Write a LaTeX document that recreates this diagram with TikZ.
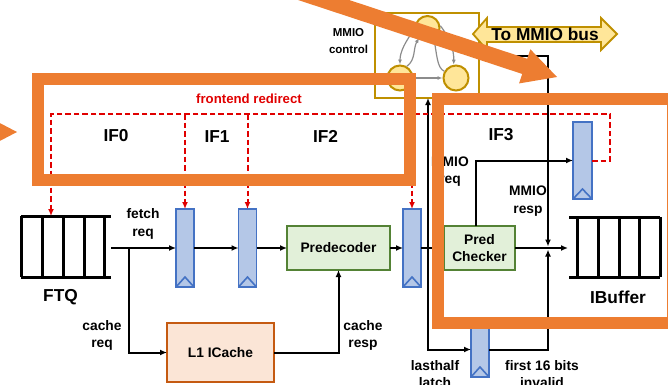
\documentclass[tikz,border=0pt]{standalone}
\usepackage{fontspec}
\setmainfont{Liberation Sans}
\usetikzlibrary{arrows.meta}

\definecolor{redir}{HTML}{E00000}
\definecolor{regfill}{HTML}{B4C7E7}
\definecolor{regdraw}{HTML}{4472C4}
\definecolor{grnfill}{HTML}{E2F0D9}
\definecolor{grndraw}{HTML}{548235}
\definecolor{icfill}{HTML}{FBE5D6}
\definecolor{icdraw}{HTML}{C55A11}
\definecolor{goldl}{HTML}{BF9000}
\definecolor{goldf}{HTML}{FFE699}
\definecolor{hilite}{HTML}{ED7D31}
\definecolor{fsmgray}{HTML}{8C8C8C}

\newcommand\lblbig{\fontsize{17.3bp}{20bp}\selectfont\bfseries}
\newcommand\lblmid{\fontsize{13.8bp}{17.5bp}\selectfont\bfseries}
\newcommand\lblred{\fontsize{13.2bp}{16bp}\selectfont\bfseries}
\newcommand\lblsmall{\fontsize{11.5bp}{17bp}\selectfont\bfseries}

\begin{document}
\begin{tikzpicture}[x=1bp,y=-1bp,
  wire/.style={line width=2bp,-{Latex[length=7bp,width=6bp]}},
  queue/.style={line width=3bp},
  redarrow/.style={draw=redir,line width=2bp,dash pattern=on 5.5bp off 3bp,
    -{Latex[length=7bp,width=6bp]}},
  regbox/.style={draw=regdraw,fill=regfill,line width=1.6bp,minimum width=18bp,
    inner sep=0pt,outer sep=0pt,
    path picture={\draw[regdraw,line width=1.6bp]
      (path picture bounding box.south west)
      -- ([yshift=10bp]path picture bounding box.south)
      -- (path picture bounding box.south east);}},
  logic/.style={draw=grndraw,fill=grnfill,line width=2.4bp,inner sep=0pt,
    outer sep=0pt,align=center,font=\lblmid},
  cachebox/.style={draw=icdraw,fill=icfill,line width=2.4bp,inner sep=0pt,
    outer sep=0pt,font=\lblmid},
  fsmstate/.style={circle,draw=goldl,fill=goldf,line width=2bp,inner sep=0pt},
  fsmedge/.style={draw=fsmgray,line width=1.2bp,-{Latex[length=5bp,width=4bp]}},
  lbl/.style={font=\lblmid,align=center,inner sep=0pt},
  stagelbl/.style={font=\lblbig,inner sep=0pt},
  band/.style={draw=hilite,line width=12bp}
]
\useasboundingbox (0,0) rectangle (668,384);

% ---------- MMIO controller ----------
\node[draw=goldl,fill=white,line width=2.4bp,minimum width=104bp,minimum height=85bp,
  inner sep=0pt,outer sep=0pt] (mmio) at (427,55.5) {};
\node[fsmstate,minimum size=24bp] (s0) at (427.5,28) {};
\node[fsmstate,minimum size=25bp] (s1) at (400,78) {};
\node[fsmstate,minimum size=25bp] (s2) at (456,78) {};
\draw[fsmedge] (s0.185) .. controls (405,42) and (400,52) .. (s1.north);
\draw[fsmedge] (s1.60) .. controls (416,60) and (413,48) .. (s0.230);
\draw[fsmgray,line width=1.2bp] (s0.300) .. controls (437,55) and (437,68) .. (s2.150);
\draw[fsmedge] (s0.10) .. controls (450,38) and (454,50) .. (s2.100);
\draw[fsmedge] (s1.east) -- (s2.west);
\node[lbl,font=\lblsmall] (mmio-lbl) at (348.5,41.5) {MMIO\\control};

% bus arrow
\draw[draw=goldl,fill=goldf,line width=1.8bp]
  (473,34) -- (487,18) -- (487,27) -- (601,27) -- (601,18) -- (617,34)
  -- (601,50) -- (601,42) -- (487,42) -- (487,50) -- cycle;
\node[font=\lblbig] (bus-lbl) at (545,34) {To MMIO bus};

% ---------- queues ----------
\foreach \xx in {21,42,63,84,104}
  \draw[queue] (\xx,216) -- (\xx,277);
\draw[queue] (21,216) -- (111,216) (21,277) -- (111,277);
\coordinate (ftq-out) at (111,248);
\coordinate (ftq-top) at (51,216);
\node[stagelbl] (ftq-lbl) at (60.5,297) {FTQ};

\foreach \xx in {577,598,619,639,660}
  \draw[queue] (\xx,217) -- (\xx,277);
\draw[queue] (569,217) -- (660,217) (569,277) -- (660,277);
\coordinate (ibuf-in) at (568,248);
\node[stagelbl] (ibuf-lbl) at (618,297) {IBuffer};

% ---------- pipeline registers and blocks ----------
\node[regbox,minimum height=78bp] (r1) at (185,248) {};
\node[regbox,minimum height=78bp] (r2) at (247.5,248) {};
\node[regbox,minimum height=78bp] (r3) at (412,248) {};
\node[regbox,minimum height=77bp,minimum width=19bp] (r4) at (582.5,160.5) {};
\node[regbox,minimum height=55bp] (r5) at (480,349.5) {};

\node[logic,minimum width=103bp,minimum height=44bp] (pre) at (338.5,248) {Predecoder};
\node[logic,minimum width=71bp,minimum height=44bp] (pc) at (479.5,248) {Pred\\Checker};
\node[cachebox,minimum width=107bp,minimum height=59bp] (ic) at (220.5,352.5) {L1 ICache};

% ---------- data path ----------
\coordinate (split) at (129,248);
\coordinate (tap) at (428,248);
\coordinate (join) at (548,248);
\draw[wire] (ftq-out) -- (r1.west);
\draw[wire] (split) |- (ic.west);
\draw[wire] (r1.east) -- (r2.west);
\draw[wire] (r2.east) -- (pre.west);
\draw[wire] (ic.east) -| (pre.south);
\draw[wire] (pre.east) -- (r3.west);
\draw[wire] (r3.east) -- (pc.west);
\draw[wire] (tap) -- (tap |- mmio.south);
\draw[wire] (tap) |- (r5.west);
\draw[wire] ([xshift=-3.5bp]pc.north) |- (r4.west);
\draw[wire] (mmio.east) -| ([yshift=1.5bp]join);
\draw[wire] (r5.east) -| ([yshift=-1.5bp]join);
\draw[wire] (pc.east) -- (ibuf-in);

\node[lbl] (l-fetch) at (143,224) {fetch\\req};
\node[lbl] (l-creq) at (102,335.5) {cache\\req};
\node[lbl] (l-cresp) at (363,335.5) {cache\\resp};
\node[lbl] (l-mreq) at (450,171.5) {MMIO\\req};
\node[lbl] (l-mresp) at (528,201) {MMIO\\resp};
\node[lbl] (l-last) at (435,374) {lasthalf\\latch};
\node[lbl] (l-first) at (542,374) {first 16 bits\\invalid};

% ---------- redirect ----------
\coordinate (rd-nw) at (51,114);
\coordinate (rd-ne) at (610,114);
\draw[redarrow] (r4.east) -- (rd-ne |- r4.east) -- (rd-ne) -- (rd-nw) -- (ftq-top);
\draw[redarrow] (r1.north |- rd-nw) -- (r1.north);
\draw[redarrow] (r2.north |- rd-nw) -- (r2.north);
\draw[redarrow] (r3.north |- rd-nw) -- (r3.north);
\node[font=\lblred,text=redir] (rd-lbl) at (249,99) {frontend redirect};

\node[stagelbl] (if0) at (116,136) {IF0};
\node[stagelbl] (if1) at (217,137) {IF1};
\node[stagelbl] (if2) at (325.5,136) {IF2};
\node[stagelbl] (if3) at (501,135) {IF3};

% ---------- orange highlight marks ----------
\draw[band] (38,79) rectangle (410,180);
\draw[band] (438,99) rectangle (673,322.5);
\fill[hilite] (-6,120) -- (17,132) -- (-6,144) -- cycle;
\begin{scope}[shift={(557,77)},rotate=-18.26]
  \fill[hilite] (0,0) -- (-34,-18) -- (-34,-8) -- (-280,-8) -- (-280,8)
    -- (-34,8) -- (-34,18) -- cycle;
\end{scope}
\end{tikzpicture}
\end{document}
